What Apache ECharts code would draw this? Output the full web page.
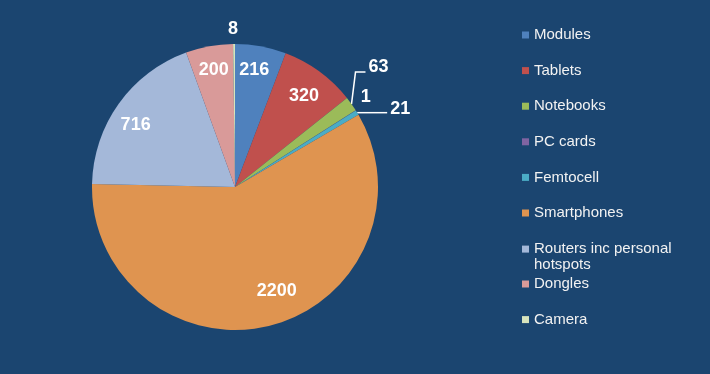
<!DOCTYPE html>
<html>
<head>
<meta charset="utf-8">
<script src="https://cdn.jsdelivr.net/npm/echarts@6/dist/echarts.min.js"></script>
<style>
  html, body { margin: 0; padding: 0; background: #1b4570; }
  #chart { width: 710px; height: 374px; }
</style>
</head>
<body>
<div id="chart"></div>
<script>
// ---- data ----
const categories = ['Modules', 'Tablets', 'Notebooks', 'PC cards', 'Femtocell', 'Smartphones', 'Routers inc personal hotspots', 'Dongles', 'Camera'];
const values = [216, 320, 63, 1, 21, 2200, 716, 200, 8];
const colors = ['#4f81bd', '#c0504d', '#9bbb59', '#8064a2', '#4bacc6', '#df9450', '#a4b8d9', '#d99a99', '#d7e4bd'];
const insideLabelled = ['Modules', 'Tablets', 'Smartphones', 'Routers inc personal hotspots', 'Dongles'];

const CENTER = [235, 187];
const R = 143;
const labelFont = { color: '#ffffff', fontFamily: 'Liberation Sans', fontWeight: 'bold', fontSize: 18, formatter: '{c}' };

// outside label tweaks (style only)
const outsideLabelStyle = {
  'Camera':    { labelLine: { show: false, length: 15, length2: 0 }, label: { distanceToLabelLine: -4 } },
  'Notebooks': { labelLine: { show: true, length: 10, length2: 10 }, label: { distanceToLabelLine: 3 } },
  'PC cards':  { labelLine: { show: false, length: 0, length2: 0 }, label: { distanceToLabelLine: 0 } },
  'Femtocell': { labelLine: { show: true, length: 0, length2: 30 }, label: { distanceToLabelLine: 3 } }
};
// inside label nudges (style only)
const insideNudge = {
  'Modules': [-2, 0], 'Tablets': [-1, 5], 'Smartphones': [12, -11],
  'Routers inc personal hotspots': [-3, 7], 'Dongles': [0, 0]
};

const mainData = categories.map((name, i) => {
  const o = outsideLabelStyle[name];
  const d = { name, value: values[i], itemStyle: { color: colors[i] } };
  if (o) {
    d.label = Object.assign({ show: true, position: 'outside' }, labelFont, o.label);
    d.labelLine = Object.assign({ lineStyle: { color: '#ffffff', width: 1.5 } }, o.labelLine);
  } else {
    d.label = { show: false };
    d.labelLine = { show: false };
  }
  return d;
});

const overlayData = categories.map((name, i) => ({
  name, value: values[i],
  label: { show: insideLabelled.indexOf(name) >= 0 }
}));

const legendText = {
  color: '#f2f2f2', fontFamily: 'Liberation Sans', fontSize: 15, lineHeight: 18,
  rich: { h: { color: '#f2f2f2', fontFamily: 'Liberation Sans', fontSize: 15, lineHeight: 1, verticalAlign: 'top' } }
};
const legendCommon = {
  orient: 'vertical', left: 517, itemWidth: 7, itemHeight: 7, itemGap: 17.6, icon: 'rect',
  formatter: name => name === 'Routers inc personal hotspots' ? 'Routers inc personal\n{h|hotspots}' : name,
  textStyle: legendText
};

const chart = echarts.init(document.getElementById('chart'), null, { renderer: 'canvas' });
chart.setOption({
  backgroundColor: '#1b4570',
  animation: false,
  legend: [
    Object.assign({ top: 21, data: categories.slice(0, 7) }, legendCommon),
    Object.assign({ top: 270, data: categories.slice(7) }, legendCommon)
  ],
  series: [
    {
      type: 'pie',
      center: CENTER,
      radius: [0, R],
      startAngle: 90,
      clockwise: true,
      avoidLabelOverlap: false,
      minAngle: 0,
      emphasis: { disabled: true },
      itemStyle: { borderWidth: 0 },
      data: mainData,
      labelLayout: function (params) {
        const name = categories[params.dataIndex];
        const pts = params.labelLinePoints;
        if (name === 'Notebooks' && pts) {
          const p0 = pts[0];
          const p1 = [p0[0] + 4, p0[1] - 32];
          const p2 = [p1[0] + 10, p1[1]];
          return { x: p2[0] + 3, y: p2[1] - 5, align: 'left', verticalAlign: 'middle', labelLinePoints: [p0, p1, p2] };
        }
        if (name === 'Femtocell' && pts) {
          return { dy: -4, labelLinePoints: pts };
        }
        if (name === 'PC cards') {
          return { dx: 5, dy: -13 };
        }
        return {};
      }
    },
    {
      type: 'pie',
      center: CENTER,
      radius: [88, R],
      startAngle: 90,
      clockwise: true,
      silent: true,
      avoidLabelOverlap: false,
      emphasis: { disabled: true },
      itemStyle: { color: 'rgba(0,0,0,0)', borderWidth: 0 },
      label: Object.assign({ position: 'inside' }, labelFont),
      labelLine: { show: false },
      data: overlayData,
      labelLayout: function (params) {
        const n = insideNudge[categories[params.dataIndex]];
        return n ? { dx: n[0], dy: n[1] } : {};
      }
    }
  ]
});
</script>
</body>
</html>
